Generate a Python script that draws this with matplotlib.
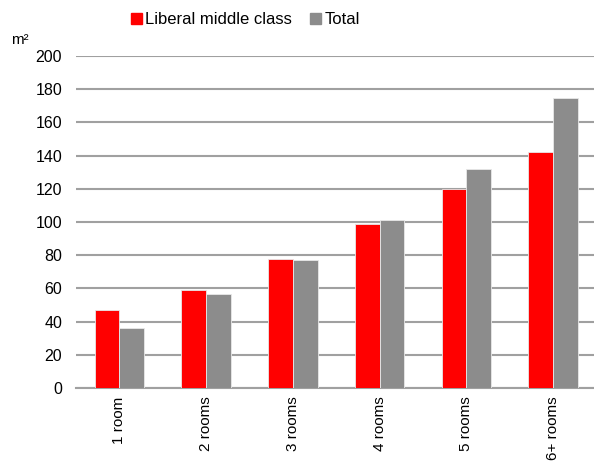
import numpy as np
import matplotlib.pyplot as plt
from matplotlib.patches import Patch

plt.rcParams['font.family'] = ['Liberation Sans', 'DejaVu Sans']

categories = ["1 room", "2 rooms", "3 rooms", "4 rooms", "5 rooms", "6+ rooms"]
liberal = [47.2, 59.3, 77.5, 99.0, 120.0, 142.0]
total = [36.0, 56.6, 77.0, 101.2, 131.7, 174.5]
series_names = ["Liberal middle class", "Total"]
colors = ["#ff0000", "#8c8c8c"]

fig = plt.figure(figsize=(5.94, 4.65), dpi=100)
ax = fig.add_axes([0.128, 0.1656, 0.876, 0.714])

x = np.arange(len(categories))
w = 0.285
ax.bar(x - w / 2, liberal, w, color=colors[0], edgecolor="#e8e8e8", linewidth=0.6, zorder=3)
ax.bar(x + w / 2, total, w, color=colors[1], edgecolor="#e8e8e8", linewidth=0.6, zorder=3)

ax.set_xlim(-0.5, len(categories) - 0.5)
ax.set_ylim(0, 200)
ax.set_yticks(np.arange(0, 201, 20))
ax.yaxis.grid(True, color="#a0a0a0", linewidth=1.5, zorder=0)
ax.set_axisbelow(True)
for s in ["top", "right", "left"]:
    ax.spines[s].set_visible(False)
ax.spines["bottom"].set_color("#a0a0a0")
ax.spines["bottom"].set_linewidth(1.5)
ax.set_xticks(x)
ax.set_xticklabels(categories, rotation=90)
ax.yaxis.set_tick_params(length=0, pad=10, labelsize=11.5)
ax.xaxis.set_tick_params(length=0, pad=6, labelsize=11)

fig.text(0.034, 0.914, "m²", fontsize=11, ha="center", va="center")

handles = [Patch(color=c) for c in colors]
fig.legend(handles, series_names, loc="center", bbox_to_anchor=(0.413, 0.958),
           ncol=2, frameon=False, fontsize=12, handlelength=0.65, handleheight=0.65,
           handletextpad=0.2, columnspacing=1.1, borderpad=0)

fig.savefig("out.png", dpi=100)
